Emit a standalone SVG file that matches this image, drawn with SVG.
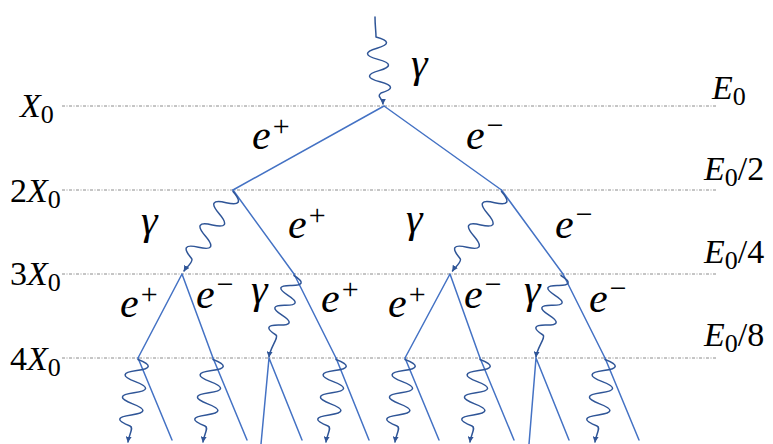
<svg xmlns="http://www.w3.org/2000/svg" xmlns:xlink="http://www.w3.org/1999/xlink" width="773" height="444" viewBox="0 0 773 444">
<style>
.grid line{stroke:#8c8c8c;stroke-width:1;stroke-dasharray:3 1.5 1 1.5}
.trk{stroke:#4472c4;stroke-width:1.5;fill:none;stroke-linecap:round}
.ph{stroke:#2f5597;stroke-width:1.5;fill:none;stroke-linecap:round;stroke-linejoin:round;marker-end:url(#arr)}
text{font-family:"Liberation Serif","DejaVu Serif",serif;fill:#000}
.p{font-size:42px;font-style:italic}
.sup{font-size:30px;font-style:normal}
.ax{font-size:34px}
.it{font-style:italic}
.sub{font-size:26px;font-style:normal}
</style>
<defs>
<marker id="arr" viewBox="0 0 10 10" refX="9" refY="5" markerWidth="6" markerHeight="6" markerUnits="userSpaceOnUse" orient="auto">
<path d="M0,0 L10,5 L0,10 z" fill="#2f5597"/>
</marker>
<path id="ph2" class="ph" d="M0,1.5 Q13.65,17.44 -6.91,12.65 T-13.82,23.8 T-20.73,34.95 T-27.64,46.1 T-34.55,57.25 T-41.46,68.4 C-38.7,71.6 -46.9,77.6 -49,81"/>
<path id="ph3" class="ph" d="M0,1.5 Q15.74,11.64 -3,11.42 T-6,21.33 T-9,31.25 T-12,41.17 T-15,51.08 T-18,61 C-14.9,63 -24,74 -25,83"/>
<path id="ph4" class="ph" d="M0,1.5 Q21.18,9.64 -1.33,12.58 T-2.67,23.67 T-4,34.75 T-5.33,45.83 T-6.67,56.92 T-8,68 C-3.76,69.6 -9.06,76.06 -10,84"/>
</defs>
<rect width="773" height="444" fill="#fff"/>
<g id="grid" class="grid">
<line x1="62" y1="106" x2="717" y2="106"/>
<line x1="62" y1="190" x2="717" y2="190"/>
<line x1="62" y1="274" x2="717" y2="274"/>
<line x1="62" y1="358" x2="717" y2="358"/>
</g>
<g id="depth-labels" class="ax">
<g id="lbl-X0"><text x="20" y="117"><tspan class="it">X</tspan><tspan class="sub" dy="6">0</tspan></text></g>
<g id="lbl-2X0"><text x="10" y="202">2<tspan class="it">X</tspan><tspan class="sub" dy="6">0</tspan></text></g>
<g id="lbl-3X0"><text x="10" y="285">3<tspan class="it">X</tspan><tspan class="sub" dy="6">0</tspan></text></g>
<g id="lbl-4X0"><text x="10" y="370">4<tspan class="it">X</tspan><tspan class="sub" dy="6">0</tspan></text></g>
</g>
<g id="energy-labels" class="ax">
<g id="lbl-E0"><text x="712" y="99"><tspan class="it">E</tspan><tspan class="sub" dy="6">0</tspan></text></g>
<g id="lbl-E0-2"><text x="704" y="180"><tspan class="it">E</tspan><tspan class="sub" dy="6">0</tspan><tspan dy="-6">/2</tspan></text></g>
<g id="lbl-E0-4"><text x="704" y="263"><tspan class="it">E</tspan><tspan class="sub" dy="6">0</tspan><tspan dy="-6">/4</tspan></text></g>
<g id="lbl-E0-8"><text x="704" y="346"><tspan class="it">E</tspan><tspan class="sub" dy="6">0</tspan><tspan dy="-6">/8</tspan></text></g>
</g>
<g id="connectors">
<path class="ph" d="M375,17 C375,26 376,31 376,37 Q396.5,42.6 377,48.2 T378,59.4 T379,70.6 T380,81.8 T381,93 C376,97 383,98 383,104"/>
<path class="trk" d="M384,106 L233,190 M384,106 L501.5,190"/>
<path class="trk" d="M233,190 L294,274 M501.5,190 L563,274"/>
<use xlink:href="#ph2" x="233" y="190"/>
<use xlink:href="#ph2" x="501.5" y="190"/>
<path class="trk" d="M182,274 L138,358 M182,274 L213,358 M294,274 L336,358 M450,274 L405,358 M450,274 L480,358 M563,274 L605,358"/>
<use xlink:href="#ph3" x="294" y="274"/>
<use xlink:href="#ph3" x="561" y="274"/>
<path class="trk" d="M138,358 L172,440 M213,358 L247,440 M269,358 L261,444 M269,358 L302,440 M336,358 L369,440 M405,358 L439,440 M480,358 L514,440 M536,358 L529,444 M536,358 L569,440 M605,358 L639,440"/>
<use xlink:href="#ph4" x="138" y="358"/>
<use xlink:href="#ph4" x="213" y="358"/>
<use xlink:href="#ph4" x="336" y="358"/>
<use xlink:href="#ph4" x="405" y="358"/>
<use xlink:href="#ph4" x="480" y="358"/>
<use xlink:href="#ph4" x="605" y="358"/>
</g>
<g id="particle-labels" class="p">
<g id="g0"><text x="411" y="77">γ</text></g>
<g id="l1-ep"><text x="252" y="149">e<tspan class="sup" dx="2" dy="-13">+</tspan></text></g>
<g id="l1-em"><text x="466" y="149">e<tspan class="sup" dx="2" dy="-14">−</tspan></text></g>
<g id="l2-g1"><text x="141" y="234">γ</text></g>
<g id="l2-ep"><text x="288" y="238">e<tspan class="sup" dx="2" dy="-13">+</tspan></text></g>
<g id="l2-g2"><text x="406" y="232">γ</text></g>
<g id="l2-em"><text x="555" y="238">e<tspan class="sup" dx="2" dy="-14">−</tspan></text></g>
<g id="l3-ep1"><text x="120" y="317">e<tspan class="sup" dx="2" dy="-13">+</tspan></text></g>
<g id="l3-em1"><text x="196" y="308">e<tspan class="sup" dx="2" dy="-14">−</tspan></text></g>
<g id="l3-g1"><text x="251" y="303">γ</text></g>
<g id="l3-ep2"><text x="321" y="312">e<tspan class="sup" dx="2" dy="-13">+</tspan></text></g>
<g id="l3-ep3"><text x="388" y="317">e<tspan class="sup" dx="2" dy="-13">+</tspan></text></g>
<g id="l3-em2"><text x="464" y="308">e<tspan class="sup" dx="2" dy="-14">−</tspan></text></g>
<g id="l3-g2"><text x="524" y="303">γ</text></g>
<g id="l3-em3"><text x="589" y="312">e<tspan class="sup" dx="2" dy="-14">−</tspan></text></g>
</g>
</svg>
